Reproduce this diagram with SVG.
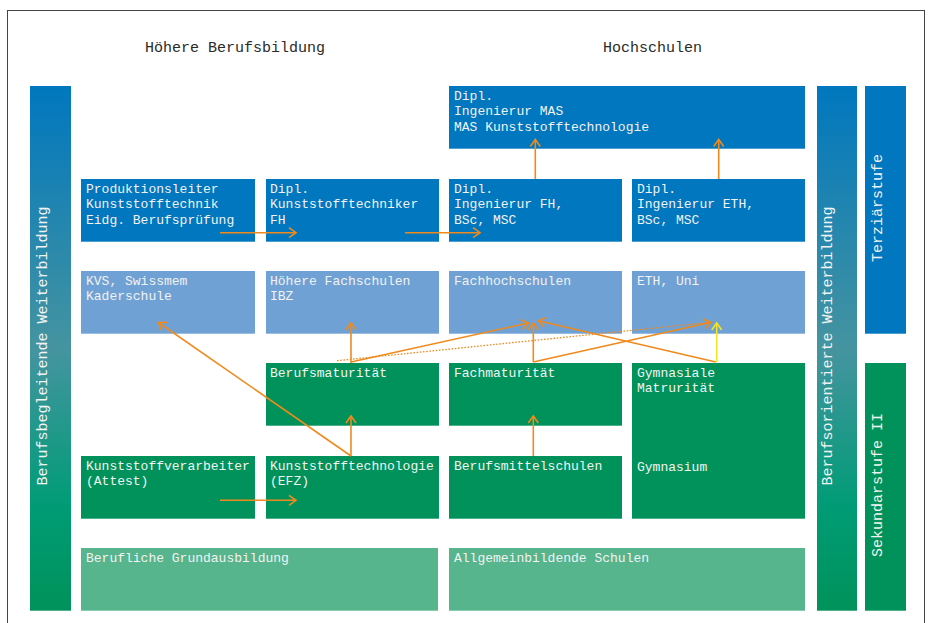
<svg xmlns="http://www.w3.org/2000/svg" width="930" height="623" viewBox="0 0 930 623">
<defs>
<linearGradient id="grad" x1="0" y1="0" x2="0" y2="1">
<stop offset="0" stop-color="#0077be"/>
<stop offset="0.5" stop-color="#4594a0"/>
<stop offset="0.8" stop-color="#009c76"/>
<stop offset="1" stop-color="#00925a"/>
</linearGradient>
<marker id="ah" markerUnits="userSpaceOnUse" markerWidth="16" markerHeight="16" viewBox="-8 -8 16 16" refX="0" refY="0" orient="auto">
<path d="M-7,-5 L0,0 L-7,5" fill="none" stroke="#f08a1c" stroke-width="1.6"/>
</marker>
<marker id="ahy" markerUnits="userSpaceOnUse" markerWidth="16" markerHeight="16" viewBox="-8 -8 16 16" refX="0" refY="0" orient="auto">
<path d="M-7,-5 L0,0 L-7,5" fill="none" stroke="#f5e31e" stroke-width="1.6"/>
</marker>
</defs>
<style>
.t{font-family:"Liberation Mono","DejaVu Sans Mono",monospace;font-size:13px;fill:#f2f2f2}
.h{font-family:"Liberation Mono","DejaVu Sans Mono",monospace;font-size:15px;fill:#2a2a2a}
.v{font-family:"Liberation Mono","DejaVu Sans Mono",monospace;font-size:15px;fill:#f2f2f2;text-anchor:middle}
.db{fill:#0077be}
.lb{fill:#70a1d4}
.g{fill:#00925a}
.lg{fill:#56b58d}
.a{stroke:#f08a1c;stroke-width:1.6;fill:none;marker-end:url(#ah)}
</style>
<rect x="7.5" y="10.5" width="917" height="620" fill="#fff" stroke="#444" stroke-width="1"/>
<g id="titles">
<text class="h" x="145" y="52">Höhere Berufsbildung</text>
<text class="h" x="603" y="52">Hochschulen</text>
</g>
<g id="bar-left"><rect x="30" y="86" width="41" height="524.7" fill="url(#grad)"/>
<text class="v" transform="translate(47,346) rotate(-90)">Berufsbegleitende Weiterbildung</text></g>
<g id="bar-right"><rect x="817" y="86" width="40" height="524.7" fill="url(#grad)"/>
<text class="v" transform="translate(832,346) rotate(-90)">Berufsorientierte Weiterbildung</text></g>
<g id="terz"><rect x="865" y="86" width="41" height="247.7" class="db"/>
<text class="v" transform="translate(882,208) rotate(-90)">Terziärstufe</text></g>
<g id="sek"><rect x="865" y="363" width="41" height="247.7" class="g"/>
<text class="v" transform="translate(882,485) rotate(-90)">Sekundarstufe II</text></g>

<g id="mas"><rect x="449" y="86" width="356" height="62.7" class="db"/>
<text class="t" x="454" y="99.5">Dipl.</text><text class="t" x="454" y="115.2">Ingenierur MAS</text><text class="t" x="454" y="130.9">MAS Kunststofftechnologie</text></g>

<g id="prod"><rect x="81" y="179" width="174" height="62.7" class="db"/>
<text class="t" x="86" y="192.5">Produktionsleiter</text><text class="t" x="86" y="208.2">Kunststofftechnik</text><text class="t" x="86" y="223.9">Eidg. Berufsprüfung</text></g>
<g id="dipltech"><rect x="266" y="179" width="173" height="62.7" class="db"/>
<text class="t" x="270" y="192.5">Dipl.</text><text class="t" x="270" y="208.2">Kunststofftechniker</text><text class="t" x="270" y="223.9">FH</text></g>
<g id="diplfh"><rect x="449" y="179" width="173" height="62.7" class="db"/>
<text class="t" x="454" y="192.5">Dipl.</text><text class="t" x="454" y="208.2">Ingenierur FH,</text><text class="t" x="454" y="223.9">BSc, MSC</text></g>
<g id="dipleth"><rect x="632" y="179" width="173" height="62.7" class="db"/>
<text class="t" x="637" y="192.5">Dipl.</text><text class="t" x="637" y="208.2">Ingenierur ETH,</text><text class="t" x="637" y="223.9">BSc, MSC</text></g>

<g id="kvs"><rect x="81" y="271" width="174" height="62.7" class="lb"/>
<text class="t" x="86" y="284.5">KVS, Swissmem</text><text class="t" x="86" y="300.2">Kaderschule</text></g>
<g id="hfs"><rect x="266" y="271" width="173" height="62.7" class="lb"/>
<text class="t" x="270" y="284.5">Höhere Fachschulen</text><text class="t" x="270" y="300.2">IBZ</text></g>
<g id="fhs"><rect x="449" y="271" width="173" height="62.7" class="lb"/>
<text class="t" x="454" y="284.5">Fachhochschulen</text></g>
<g id="eth"><rect x="632" y="271" width="173" height="62.7" class="lb"/>
<text class="t" x="637" y="284.5">ETH, Uni</text></g>

<g id="bm"><rect x="266" y="363" width="173" height="62.7" class="g"/>
<text class="t" x="270" y="376.5">Berufsmaturität</text></g>
<g id="fm"><rect x="449" y="363" width="173" height="62.7" class="g"/>
<text class="t" x="454" y="376.5">Fachmaturität</text></g>
<g id="gym"><rect x="632" y="363" width="173" height="155.7" class="g"/>
<text class="t" x="637" y="376.5">Gymnasiale</text><text class="t" x="637" y="392.2">Matrurität</text><text class="t" x="637" y="470.8">Gymnasium</text></g>

<g id="kv"><rect x="81" y="456" width="174" height="62.7" class="g"/>
<text class="t" x="86" y="469.5">Kunststoffverarbeiter</text><text class="t" x="86" y="485.2">(Attest)</text></g>
<g id="kt"><rect x="266" y="456" width="173" height="62.7" class="g"/>
<text class="t" x="270" y="469.5">Kunststofftechnologie</text><text class="t" x="270" y="485.2">(EFZ)</text></g>
<g id="bms"><rect x="449" y="456" width="173" height="62.7" class="g"/>
<text class="t" x="454" y="469.5">Berufsmittelschulen</text></g>

<g id="bg"><rect x="81" y="548" width="357" height="62.7" class="lg"/>
<text class="t" x="86" y="561.5">Berufliche Grundausbildung</text></g>
<g id="ab"><rect x="449" y="548" width="356" height="62.7" class="lg"/>
<text class="t" x="454" y="561.5">Allgemeinbildende Schulen</text></g>

<g id="connectors">
<line class="a" x1="220" y1="232.7" x2="296" y2="232.7"/>
<line class="a" x1="405" y1="232.7" x2="480" y2="232.7"/>
<line class="a" x1="535.3" y1="179" x2="535.3" y2="139.5"/>
<line class="a" x1="718.7" y1="179" x2="718.7" y2="139.5"/>
<line class="a" x1="351" y1="456" x2="158.5" y2="322.5"/>
<line class="a" x1="351" y1="456" x2="351" y2="416"/>
<line class="a" x1="351" y1="363" x2="351" y2="323"/>
<line class="a" x1="351" y1="362" x2="528.3" y2="323"/>
<line x1="337" y1="360.7" x2="708" y2="322.5" stroke="#f08a1c" stroke-width="1.3" stroke-dasharray="1.6,1.6" fill="none"/>
<line class="a" x1="533.3" y1="362" x2="533.3" y2="323"/>
<line class="a" x1="533.3" y1="362" x2="711" y2="322.3"/>
<line class="a" x1="715.7" y1="362" x2="538.3" y2="320.7"/>
<line x1="716.7" y1="362" x2="716.7" y2="323" stroke="#f5e31e" stroke-width="1.6" marker-end="url(#ahy)"/>
<line class="a" x1="533.3" y1="456" x2="533.3" y2="416"/>
<line class="a" x1="220" y1="500.3" x2="296" y2="500.3"/>
</g>
</svg>
